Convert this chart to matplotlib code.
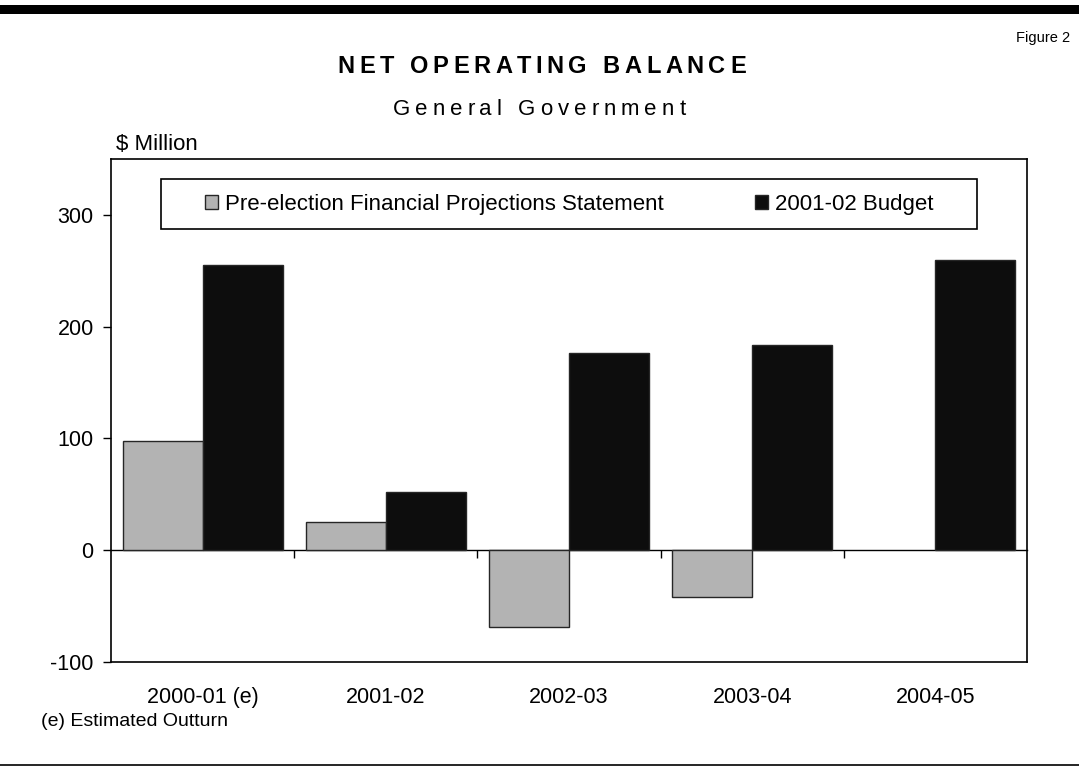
import numpy as np
import matplotlib
matplotlib.use('Agg')
import matplotlib.pyplot as plt
from matplotlib.patches import Rectangle
from matplotlib.lines import Line2D
from matplotlib.font_manager import FontProperties, findfont, get_font

plt.rcParams['font.family'] = ['Liberation Sans', 'DejaVu Sans']
plt.rcParams['axes.unicode_minus'] = False

# Net operating balance, $ million
years = ['2000-01 (e)', '2001-02', '2002-03', '2003-04', '2004-05']
pre_election = [98, 25, -69, -42, np.nan]
budget = [255, 52, 176, 184, 260]
series_names = ['Pre-election Financial Projections Statement', '2001-02 Budget']
yticks = [-100, 0, 100, 200, 300]

W, H, DPI = 1079, 767, 100


def spaced_text(fig, x_px, y_px, s, size, spacing_px, weight='normal'):
    # no letter-spacing in matplotlib, so lay the glyphs out one by one
    prop = FontProperties(family='Liberation Sans', size=size, weight=weight)
    font = get_font(findfont(prop))
    font.set_size(size, DPI)
    adv = [font.load_char(ord(c)).linearHoriAdvance / 65536 for c in s]
    total = sum(adv) + spacing_px * (len(s) - 1)
    x = x_px - total / 2
    for ch, a in zip(s, adv):
        fig.text(x / W, 1 - y_px / H, ch, fontproperties=prop,
                 ha='left', va='baseline')
        x += a + spacing_px


fig = plt.figure(figsize=(W / DPI, H / DPI), dpi=DPI)

# page rules
fig.add_artist(Rectangle((0, 1 - 14 / H), 1, 9 / H, transform=fig.transFigure,
                         color='black', lw=0))
fig.add_artist(Line2D([0, 1], [1 - 765 / H] * 2, transform=fig.transFigure,
                      color='black', lw=1.2))

fig.text(1070 / W, 1 - 38 / H, 'Figure 2', ha='right', va='center', fontsize=10.5)
spaced_text(fig, 541.5, 72.7, 'NET OPERATING BALANCE', 17, 4.6, weight='bold')
spaced_text(fig, 539, 114.7, 'General Government', 16, 5.0)
fig.text(116 / W, 1 - 144 / H, r'\$ Million', ha='left', va='center', fontsize=16)
fig.text(41 / W, 1 - 722 / H, '(e) Estimated Outturn', ha='left', va='center',
         fontsize=14)

ax = fig.add_axes([111 / W, 1 - 662 / H, 916 / W, 503 / H])
x = np.arange(len(years)) + 0.5
w = 0.437
ax.bar(x - w / 2, pre_election, w, color='#b3b3b3', edgecolor='#262626', lw=1,
       label=series_names[0], zorder=2)
ax.bar(x + w / 2, budget, w, color='#0d0d0d', edgecolor='#262626', lw=1,
       label=series_names[1], zorder=2)

ax.set_xlim(0, len(years))
ax.set_ylim(-100, 350)
ax.set_yticks(yticks)
ax.set_xticks(x)
ax.set_xticklabels(years)
ax.tick_params(axis='x', length=0, pad=18, labelsize=15.5)
ax.tick_params(axis='y', direction='out', length=5.5, width=1, pad=7, labelsize=15.5)
for sp in ax.spines.values():
    sp.set_linewidth(1.2)

# zero line with category dividers
y0, y1 = ax.get_ylim()
zero = ax.secondary_xaxis((0 - y0) / (y1 - y0))
zero.xaxis.set_ticks_position('bottom')
zero.set_xticks(np.arange(1, len(years)))
zero.tick_params(direction='out', length=5.5, width=1, labelbottom=False,
                 labeltop=False)
zero.spines['bottom'].set_linewidth(1)
zero.spines['top'].set_visible(False)

ax.add_patch(Rectangle((0.0546, 0.8608), 0.8908, 0.0994, transform=ax.transAxes,
                       fill=False, ec='black', lw=1.2, zorder=3))
ax.legend(loc='center', bbox_to_anchor=(0.5, 0.9105), ncol=2, frameon=False,
          fontsize=16, handlelength=0.6, handleheight=0.6, handletextpad=0.3,
          columnspacing=4.1, borderaxespad=0)

fig.savefig('out.png', dpi=DPI)
